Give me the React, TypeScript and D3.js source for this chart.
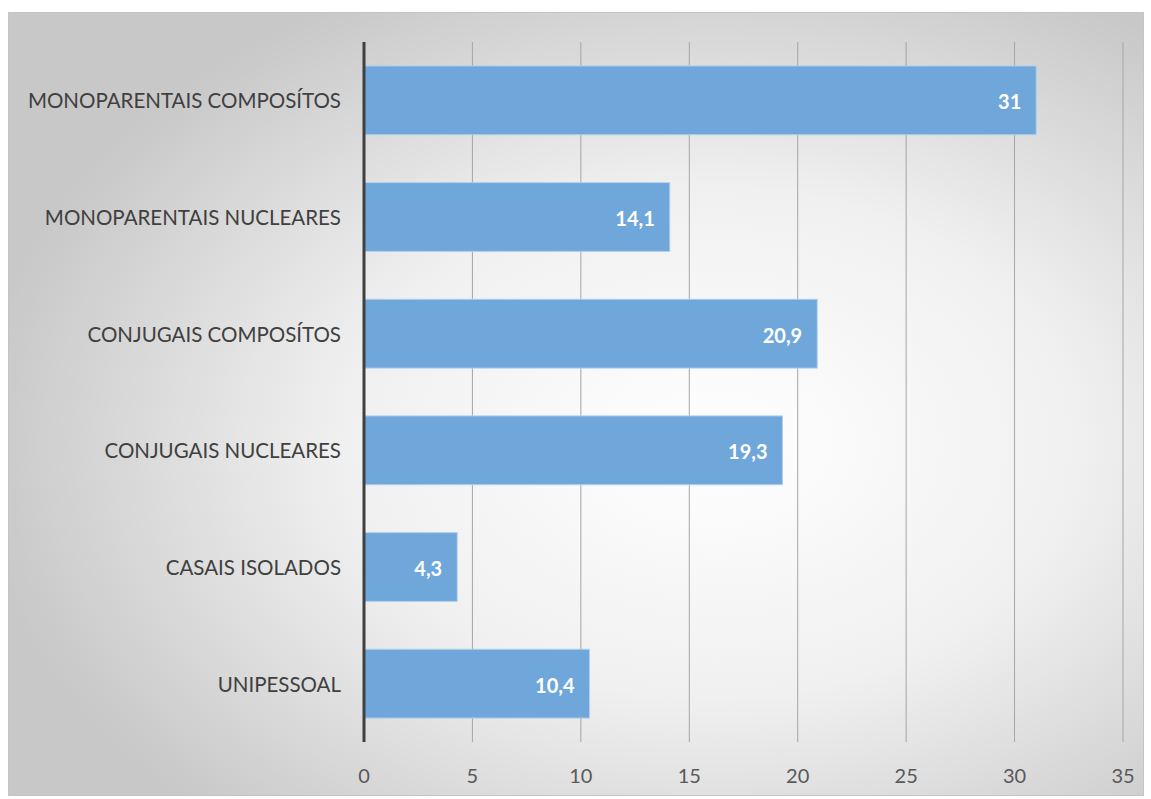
import React from "react";
import * as d3 from "d3";

const categories = [
  "MONOPARENTAIS COMPOSÍTOS",
  "MONOPARENTAIS NUCLEARES",
  "CONJUGAIS COMPOSÍTOS",
  "CONJUGAIS NUCLEARES",
  "CASAIS ISOLADOS",
  "UNIPESSOAL",
];
const values = [31, 14.1, 20.9, 19.3, 4.3, 10.4];
const valueLabels = ["31", "14,1", "20,9", "19,3", "4,3", "10,4"];
const xTicks = [0, 5, 10, 15, 20, 25, 30, 35];

const W = 1151;
const H = 799;
const FONT = "Lato, 'Noto Sans', sans-serif";

export default function App() {
  const left = 364;
  const right = 1123;
  const top = 42;
  const bottom = 742;
  const x = d3.scaleLinear().domain([0, 35]).range([left, right]);
  const y = d3
    .scaleBand<string>()
    .domain(categories)
    .range([top, bottom])
    .paddingInner(0.41)
    .paddingOuter(0.205);

  return (
    <svg
      width={W}
      height={H}
      style={{ position: "absolute", left: 0, top: 0 }}
      xmlns="http://www.w3.org/2000/svg"
    >
      <defs>
        <radialGradient id="bg" cx="62%" cy="55%" r="65%">
          <stop offset="0%" stopColor="#ffffff" />
          <stop offset="50%" stopColor="#f0f0f0" />
          <stop offset="100%" stopColor="#c8c8c8" />
        </radialGradient>
      </defs>
      <rect x={0} y={0} width={W} height={H} fill="#ffffff" />
      <rect
        x={8.5}
        y={12.5}
        width={1135}
        height={783}
        fill="url(#bg)"
        stroke="#c4c4c4"
        strokeWidth={1}
      />
      {xTicks.slice(1).map((t) => (
        <line
          key={t}
          x1={x(t)}
          x2={x(t)}
          y1={top}
          y2={bottom}
          stroke="#a6a6a6"
          strokeWidth={1}
        />
      ))}
      {categories.map((c, i) => (
        <g key={c}>
          <rect
            x={x(0)}
            y={y(c)!}
            width={x(values[i]) - x(0)}
            height={y.bandwidth()}
            fill="#6fa7da"
            stroke="#b4d0ee"
            strokeWidth={1}
          />
          <text
            x={x(values[i]) - 15}
            y={y(c)! + y.bandwidth() / 2 + 1}
            textAnchor="end"
            dominantBaseline="central"
            fill="#ffffff"
            fontWeight="bold"
            fontSize={20}
            fontFamily={FONT}
          >
            {valueLabels[i]}
          </text>
          <text
            x={341}
            y={y(c)! + y.bandwidth() / 2}
            textAnchor="end"
            dominantBaseline="central"
            fill="#404040"
            fontSize={20.5}
            fontFamily={FONT}
          >
            {c}
          </text>
        </g>
      ))}
      <line
        x1={x(0)}
        x2={x(0)}
        y1={top}
        y2={bottom}
        stroke="#404040"
        strokeWidth={3}
      />
      {xTicks.map((t) => (
        <text
          key={t}
          x={x(t)}
          y={775}
          textAnchor="middle"
          dominantBaseline="central"
          fill="#595959"
          fontSize={20}
          fontFamily={FONT}
        >
          {t}
        </text>
      ))}
    </svg>
  );
}
